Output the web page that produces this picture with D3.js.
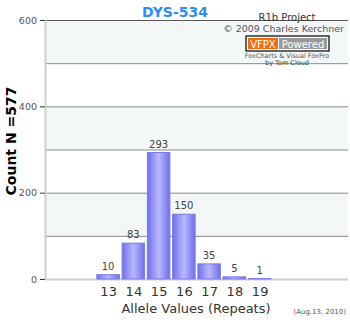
<!DOCTYPE html>
<html>
<head>
<meta charset="utf-8">
<script src="https://cdn.jsdelivr.net/npm/d3@7"></script>
<style>
  body { margin: 0; background: #fff; }
  svg text { font-family: "DejaVu Sans", Verdana, sans-serif; }
</style>
</head>
<body>
<div id="chart"></div>
<script>
// allele values shown on the axis and their counts
var alleles = [13, 14, 15, 16, 17, 18, 19]
var counts = [10, 83, 293, 150, 35, 5, 1]
var yTicks = [0, 200, 400, 600]
var gridValues = [100, 200, 300, 400, 500, 600]

var width = 350,
    height = 320

var margin = {top: 20, right: 2, bottom: 41, left: 45}

var svg = d3.select("#chart")
  .append("svg")
  .attr("width", width)
  .attr("height", height)

var x = d3.scaleLinear()
  .domain([10.5, 22.5])
  .range([margin.left, width - margin.right])

var y = d3.scaleLinear()
  .domain([0, 600])
  .range([height - margin.bottom, margin.top])

var barW = 22.5

// gradient for bars
var defs = svg.append("defs")
var grad = defs.append("linearGradient")
  .attr("id", "barGrad")
  .attr("x1", "0%").attr("x2", "100%")
  .attr("y1", "0%").attr("y2", "0%")
grad.append("stop").attr("offset", "0%").attr("stop-color", "#6f6fec")
grad.append("stop").attr("offset", "50%").attr("stop-color", "#b8b8ff")
grad.append("stop").attr("offset", "100%").attr("stop-color", "#6f6fec")

// plot background bands
var bands = d3.range(0, 600, 100)
svg.selectAll(".band")
  .data(bands)
  .enter()
  .append("rect")
  .attr("class", "band")
  .attr("x", margin.left)
  .attr("width", width - margin.right - margin.left)
  .attr("y", function(d){return y(d + 100)})
  .attr("height", function(d){return y(d) - y(d + 100)})
  .attr("fill", function(d){return (d / 100) % 2 == 1 ? "#f3f7f8" : "#ffffff"})

// gridlines
svg.selectAll(".grid")
  .data(gridValues)
  .enter()
  .append("line")
  .attr("class", "grid")
  .attr("x1", margin.left)
  .attr("x2", width - margin.right)
  .attr("y1", function(d){return y(d) + 0.5})
  .attr("y2", function(d){return y(d) + 0.5})
  .attr("stroke", function(d){return d == 600 ? "#555" : "#8a8a8a"})
  .attr("stroke-width", 1)

// axes lines
svg.append("line")
  .attr("x1", margin.left + 0.5).attr("x2", margin.left + 0.5)
  .attr("y1", y(600)).attr("y2", y(0))
  .attr("stroke", "#cfcfcf").attr("stroke-width", 2)

svg.append("line")
  .attr("x1", margin.left).attr("x2", width - margin.right)
  .attr("y1", y(0) + 0.5).attr("y2", y(0) + 0.5)
  .attr("stroke", "#cfcfcf").attr("stroke-width", 2)

// y axis
var yAxis = d3.axisLeft(y)
  .tickValues(yTicks)
  .tickSize(5)
  .tickPadding(3)

var gy = svg.append("g")
  .attr("transform", "translate(" + margin.left + ",0)")
  .call(yAxis)
gy.select(".domain").remove()
gy.selectAll(".tick line").attr("stroke", "#333")
gy.selectAll(".tick text")
  .attr("fill", "#555")
  .style("font-size", "9.5px")

// x axis
var xAxis = d3.axisBottom(x)
  .tickValues(alleles)
  .tickSize(0)
  .tickPadding(8)

var gx = svg.append("g")
  .attr("transform", "translate(0," + y(0) + ")")
  .call(xAxis)
gx.select(".domain").remove()
gx.selectAll(".tick text")
  .attr("fill", "#333")
  .style("font-size", "13px")

// bars
var data = alleles.map(function(a, i){return {allele: a, count: counts[i]}})

svg.selectAll(".bar")
  .data(data)
  .enter()
  .append("rect")
  .attr("class", "bar")
  .attr("x", function(d){return x(d.allele) - barW / 2})
  .attr("width", barW)
  .attr("y", function(d){return y(d.count)})
  .attr("height", function(d){return y(0) - y(d.count)})
  .attr("fill", "url(#barGrad)")
  .attr("stroke", "#7a7ae8")
  .attr("stroke-width", 1)

svg.selectAll(".value")
  .data(data)
  .enter()
  .append("text")
  .attr("class", "value")
  .attr("x", function(d){return x(d.allele)})
  .attr("y", function(d){return y(d.count) - 5})
  .attr("text-anchor", "middle")
  .attr("fill", "#444")
  .style("font-size", "10px")
  .text(function(d){return d.count})

// titles
svg.append("text")
  .attr("x", 175)
  .attr("y", 17)
  .attr("text-anchor", "middle")
  .attr("fill", "#2a8cf5")
  .style("font-size", "14px")
  .style("font-weight", "bold")
  .text("DYS-534")

svg.append("text")
  .attr("transform", "translate(16,141) rotate(-90)")
  .attr("text-anchor", "middle")
  .attr("fill", "#000")
  .style("font-size", "14px")
  .style("font-weight", "bold")
  .text("Count N =577")

svg.append("text")
  .attr("x", 196)
  .attr("y", 313)
  .attr("text-anchor", "middle")
  .attr("fill", "#333")
  .style("font-size", "13px")
  .text("Allele Values (Repeats)")

svg.append("text")
  .attr("x", 346)
  .attr("y", 314)
  .attr("text-anchor", "end")
  .attr("fill", "#555")
  .style("font-size", "7px")
  .text("(Aug.13, 2010)")

// credits block
svg.append("text")
  .attr("x", 287)
  .attr("y", 21)
  .attr("text-anchor", "middle")
  .attr("fill", "#333")
  .style("font-size", "10px")
  .text("R1b Project")

svg.append("text")
  .attr("x", 344)
  .attr("y", 32)
  .attr("text-anchor", "end")
  .attr("fill", "#555")
  .style("font-size", "9.5px")
  .text("\u00a9 2009 Charles Kerchner")

var logo = svg.append("g").attr("transform", "translate(246,36)")
logo.append("rect")
  .attr("x", 0).attr("y", 0).attr("width", 83).attr("height", 15)
  .attr("fill", "#fff").attr("stroke", "#000").attr("stroke-width", 1.2)
logo.append("rect")
  .attr("x", 2).attr("y", 2).attr("width", 30).attr("height", 11)
  .attr("fill", "#f26a12")
logo.append("rect")
  .attr("x", 33).attr("y", 2).attr("width", 48).attr("height", 11)
  .attr("fill", "#9a9a9a")
logo.append("text")
  .attr("x", 17).attr("y", 11.5)
  .attr("text-anchor", "middle")
  .attr("fill", "#fff")
  .style("font-size", "10px")
  .text("VFPX")
logo.append("text")
  .attr("x", 57).attr("y", 11.5)
  .attr("text-anchor", "middle")
  .attr("fill", "#fff")
  .style("font-size", "10px")
  .text("Powered")

svg.append("text")
  .attr("x", 287)
  .attr("y", 57.5)
  .attr("text-anchor", "middle")
  .attr("fill", "#555")
  .style("font-size", "6.5px")
  .text("FoxCharts & Visual FoxPro")

svg.append("text")
  .attr("x", 287)
  .attr("y", 65)
  .attr("text-anchor", "middle")
  .attr("fill", "#444")
  .style("font-size", "6.5px")
  .text("by Tom Cloud")
</script>
</body>
</html>
